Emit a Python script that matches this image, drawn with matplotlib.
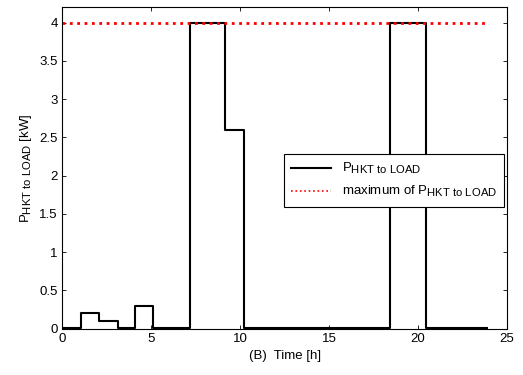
import numpy as np
import matplotlib
matplotlib.use('Agg')
import matplotlib.pyplot as plt
import matplotlib._mathtext as mt

plt.rcParams['font.family'] = ['Liberation Sans', 'DejaVu Sans']
plt.rcParams['mathtext.fontset'] = 'custom'
plt.rcParams['mathtext.rm'] = 'Liberation Sans'
plt.rcParams['mathtext.it'] = 'Liberation Sans'
# MATLAB subscripts are not shrunk as much as mathtext's default
mt.SHRINK_FACTOR = 0.85

# step edges [h] and power in each interval [kW]
t_edges = [0, 1.05, 2.05, 3.1, 4.1, 5.1, 7.15, 9.15, 10.2, 18.4, 20.45, 23.9]
p_load = [0.01, 0.2, 0.1, 0.01, 0.3, 0.01, 4.0, 2.6, 0.01, 4.0, 0.01]
p_max = 4.0
t_max = [0, 24]

xticks = [0, 5, 10, 15, 20, 25]
yticks = [0, 0.5, 1, 1.5, 2, 2.5, 3, 3.5, 4]

fig = plt.figure(figsize=(5.23, 3.75), dpi=100)
ax = fig.add_axes([0.1195, 0.124, 0.85, 0.8565])

# build staircase from edges
xs = np.repeat(t_edges, 2)[1:-1]
ys = np.repeat(p_load, 2)
ax.plot(xs, ys, 'k-', lw=1.5, label=r'P$_{\mathrm{HKT\ to\ LOAD}}$')
ax.plot(t_max, [p_max, p_max], color='red', ls=':', lw=2,
        label=r'maximum of P$_{\mathrm{HKT\ to\ LOAD}}$')

ax.set_xlim(0, 25)
ax.set_ylim(0, 4.2)
ax.set_xticks(xticks)
ax.set_xticklabels([str(v) for v in xticks])
ax.set_yticks(yticks)
ax.set_yticklabels(['0', '0.5', '1', '1.5', '2', '2.5', '3', '3.5', '4'])
ax.tick_params(direction='in', top=True, right=True, labelsize=9.5,
               length=3, width=0.6)
for s in ax.spines.values():
    s.set_linewidth(0.8)

ax.set_xlabel('(B)  Time [h]', fontsize=9.5, labelpad=3)
ax.set_ylabel(r'P$_{\mathrm{HKT\ to\ LOAD}}$ [kW]', fontsize=9.5, labelpad=4)

leg = ax.legend(loc='upper right', bbox_to_anchor=(0.993, 0.543),
                borderaxespad=0, fontsize=9.5, fancybox=False, framealpha=1,
                edgecolor='black', handlelength=3, labelspacing=0.6,
                borderpad=0.55)
leg.get_frame().set_linewidth(0.8)
leg.get_lines()[1].set_linewidth(1.2)

fig.savefig('out.png', dpi=100)
